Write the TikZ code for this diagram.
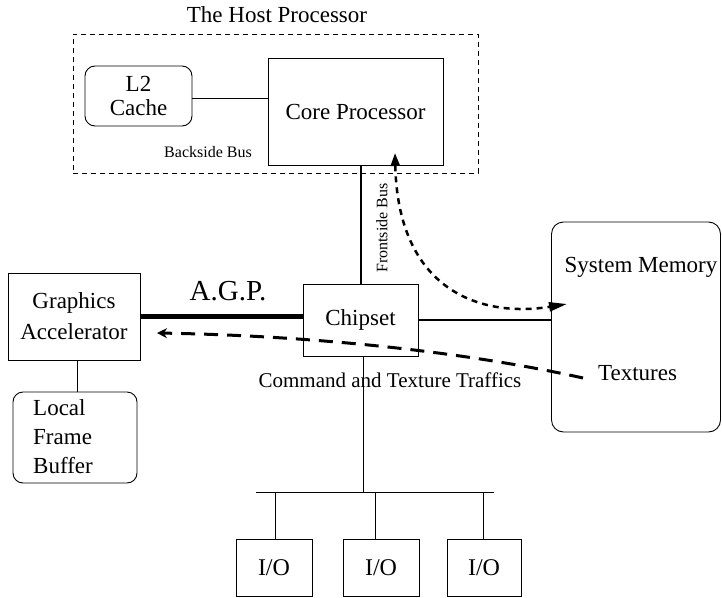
\documentclass[tikz,border=0pt]{standalone}
\usepackage{fontspec}
\setmainfont{Liberation Serif}
\usetikzlibrary{arrows.meta,calc}
\begin{document}
\begin{tikzpicture}[x=1pt,y=-1pt,
 box/.style={draw,line width=0.9pt,inner sep=0pt,font=\fontsize{23}{29}\selectfont},
 rbox/.style={box,rounded corners=10pt},
 small/.style={font=\fontsize{16}{18}\selectfont,inner sep=0pt},
 lbl/.style={font=\fontsize{23}{29}\selectfont,inner sep=0pt},
 thin/.style={line width=0.9pt},
 busline/.style={line width=2pt},
 agpline/.style={line width=5pt},
 dotarrow/.style={line width=2.5pt,dash pattern=on 6pt off 5pt,
   {Triangle[length=13pt,width=9pt]}-{Triangle[length=18pt,width=9pt]}},
 dasharrow/.style={line width=3pt,dash pattern=on 14pt off 9pt,
   -{Stealth[length=10pt,width=10pt]}}
]
\useasboundingbox (0,0) rectangle (722,597);

% host processor
\node[draw,thin,dash pattern=on 5pt off 4pt,minimum width=405pt,minimum height=139pt] (host) at (275.5,103.5) {};
\node[lbl] (title) at (277,15) {The Host Processor};
\node[box,minimum width=175pt,minimum height=107pt] (core) at (355.5,111.5) {Core Processor};
\node[rbox,align=center,minimum width=107pt,minimum height=60pt,font=\fontsize{23}{24}\selectfont] (l2) at (138.5,96) {L2\\Cache};
\node[small] (bsb) at (208,152) {Backside Bus};

% graphics
\node[box,align=center,minimum width=132pt,minimum height=87pt,font=\fontsize{23}{31}\selectfont] (ga) at (74,316.5) {Graphics\\Accelerator};
\node[rbox,minimum width=124pt,minimum height=91pt] (lfb) at (75,437.5) {};
\node[lbl,align=left,anchor=west] (lfbt) at (33,437) {Local\\Frame\\Buffer};

% chipset
\node[box,minimum width=115pt,minimum height=72pt] (chip) at (360.5,320) {Chipset};

% system memory
\node[rbox,rounded corners=12pt,minimum width=169pt,minimum height=210pt] (mem) at (636,327) {};
\node[lbl] (memt) at (641,267) {System Memory};
\node[lbl] (tex) at (637.5,373) {Textures};

% labels
\node[font=\fontsize{29}{30}\selectfont,inner sep=0pt] (agp) at (228,291) {A.G.P.};
\node[small,rotate=90] (fsb) at (382,228) {Frontside Bus};
\node[font=\fontsize{21}{24}\selectfont,inner sep=0pt] (cmd) at (390,380) {Command and Texture Traffics};

% I/O
\node[box,minimum width=76pt,minimum height=57pt,font=\fontsize{24}{26}\selectfont] (io1) at (274,567.5) {I/O};
\node[box,minimum width=76pt,minimum height=57pt,font=\fontsize{24}{26}\selectfont] (io2) at (381,567.5) {I/O};
\node[box,minimum width=74pt,minimum height=57pt,font=\fontsize{24}{26}\selectfont] (io3) at (484,567.5) {I/O};
\coordinate (busL) at (256,492);
\coordinate (busR) at (494,492);

% connectors
\draw[thin] ($(l2.east)+(0,2)$) -- ($(l2.east -| core.west)+(0,2)$);
\draw[busline] (chip.north) -- (chip.north |- core.south);
\draw[agpline] (ga.east) -- (ga.east -| chip.west);
\draw[busline] (chip.east) -- (chip.east -| mem.west);
\draw[thin] ($(ga.south)+(3,0)$) -- ($(ga.south |- lfb.north)+(3,0)$);
\draw[thin] ($(chip.south)+(2.5,0)$) -- ($(chip.south |- busL)+(2.5,0)$);
\draw[thin] (busL) -- (busR);
\draw[thin] ($(io1.north)+(1,0)$) -- ($(io1.north |- busL)+(1,0)$);
\draw[thin] ($(io2.north)+(-6,0)$) -- ($(io2.north |- busL)+(-6,0)$);
\draw[thin] ($(io3.north)+(-1,0)$) -- ($(io3.north |- busL)+(-1,0)$);

\coordinate (dtop) at (395,153);
\coordinate (dright) at (567,304);
\draw[dotarrow] (dtop) .. controls (398,290) and (480,318) .. (dright);

\coordinate (tsrc) at (583,378);
\coordinate (gatip) at (157,333);
\draw[dasharrow] (tsrc) .. controls (480,355) and (330,336) .. (gatip);
\end{tikzpicture}
\end{document}
